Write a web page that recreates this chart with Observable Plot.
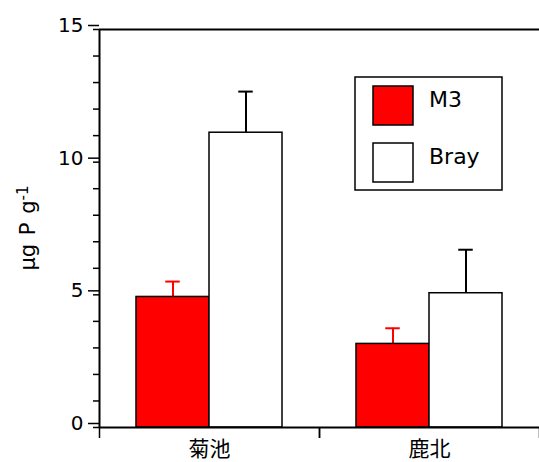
<!DOCTYPE html>
<html><head><meta charset="utf-8">
<script src="https://cdn.jsdelivr.net/npm/d3@7"></script>
<script src="https://cdn.jsdelivr.net/npm/@observablehq/plot@0.6"></script>
<style>body{margin:0;background:#fff} #chart{position:relative;width:539px;height:462px}</style>
</head><body><div id="chart"></div>
<script>
const sites = ["菊池", "鹿北"];
const methods = ["M3", "Bray"];
const m3Values = [4.92, 3.15];
const m3Errors = [0.58, 0.59];
const brayValues = [11.11, 5.06];
const brayErrors = [1.55, 1.64];
const yMajorTicks = [0, 5, 10, 15];
const yMinorTicks = [0,1,2,3,4,5,6,7,8,9,10,11,12,13,14,15];
const methodFills = ["#ff0000", "#ffffff"];
const errorColors = ["#ff0000", "#000000"];
const yLabelMain = "µg P g";
const yLabelSup = "-1";

const W = 539, H = 462, ML = 98, MR = 0, MT = 29, MB = 35;
const facetW = (W - ML - MR) / sites.length;
const bandW = facetW / 3;
const pxPerUnit = (H - MT - MB) / 15;
const latin = "'DejaVu Sans', sans-serif";
const cjk = "'Noto Sans CJK JP', sans-serif";

const rows = [];
sites.forEach((s, i) => {
  rows.push({site: s, method: methods[0], value: m3Values[i], err: m3Errors[i]});
  rows.push({site: s, method: methods[1], value: brayValues[i], err: brayErrors[i]});
});
const fillOf = d => methodFills[methods.indexOf(d.method)];
const errOf = d => errorColors[methods.indexOf(d.method)];
const leftEdges = sites.map(s => ({site: s, method: methods[0]}));
const rightEdges = sites.map(s => ({site: s, method: methods[1]}));

const plot = Plot.plot({
  width: W, height: H,
  marginLeft: ML, marginRight: MR, marginTop: MT, marginBottom: MB,
  style: {fontFamily: latin, background: "white", overflow: "visible", color: "black"},
  fx: {domain: sites, padding: 0, label: null},
  x: {domain: methods, paddingInner: 0, paddingOuter: 0.5, axis: null},
  y: {domain: [0, 15], axis: null},
  marks: [
    Plot.ruleX(rows, {fx: "site", x: "method", y1: "value", y2: d => d.value + d.err, stroke: errOf, strokeWidth: 2}),
    Plot.tickY(rows, {fx: "site", x: "method", y: d => d.value + d.err, stroke: errOf, strokeWidth: 2, insetLeft: (bandW - 15) / 2, insetRight: (bandW - 15) / 2}),
    Plot.barY(rows, {fx: "site", x: "method", y: "value", fill: fillOf, stroke: "black", strokeWidth: 1.5}),
    Plot.ruleY([0], {stroke: "black", strokeWidth: 2}),
    Plot.ruleY([15], {stroke: "black", strokeWidth: 2}),
    // left axis line
    Plot.ruleX([leftEdges[0]], {fx: "site", x: "method", y1: 0, y2: 15, dx: -bandW, stroke: "black", strokeWidth: 2}),
    // bottom category boundary ticks
    Plot.ruleX(leftEdges, {fx: "site", x: "method", y1: 0, y2: -11 / pxPerUnit, dx: -bandW, stroke: "black", strokeWidth: 1.5}),
    Plot.ruleX(rightEdges, {fx: "site", x: "method", y1: 0, y2: -11 / pxPerUnit, dx: bandW, stroke: "black", strokeWidth: 1.5}),
    Plot.axisY(yMinorTicks, {tickSize: 6, fill: "none", tickFormat: () => "", label: null, strokeWidth: 1.5}),
    Plot.axisY(yMajorTicks, {tickSize: 11, tickPadding: 5, fontSize: 20, label: null, strokeWidth: 1.5, dy: -4}),
    Plot.axisFx({anchor: "bottom", tickSize: 0, tickPadding: 14, fontSize: 21, fontFamily: cjk, label: null})
  ]
});
document.getElementById("chart").appendChild(plot);

const svg = d3.select(plot);
// y-axis label
const lab = svg.append("text")
  .attr("transform", `translate(35,${(MT + H - MB) / 2}) rotate(-90)`)
  .attr("text-anchor", "middle")
  .attr("font-family", latin).attr("font-size", 21).attr("fill", "black")
  .attr("word-spacing", 2);
lab.append("tspan").text(yLabelMain);
lab.append("tspan").attr("font-size", 15).attr("dy", -7).text(yLabelSup);

// legend
const lg = svg.append("g");
lg.append("rect").attr("x", 355).attr("y", 77).attr("width", 147).attr("height", 113)
  .attr("fill", "white").attr("stroke", "black").attr("stroke-width", 1.5);
methods.forEach((m, i) => {
  const cy = 105.5 + i * 57;
  lg.append("rect").attr("x", 373).attr("y", cy - 19.5).attr("width", 40).attr("height", 39)
    .attr("fill", methodFills[i]).attr("stroke", "black").attr("stroke-width", 1.5);
  lg.append("text").attr("x", 429).attr("y", cy + 1.5).attr("text-anchor", "start")
    .attr("font-family", latin).attr("font-size", 22).attr("fill", "black").text(m);
});
</script></body></html>
